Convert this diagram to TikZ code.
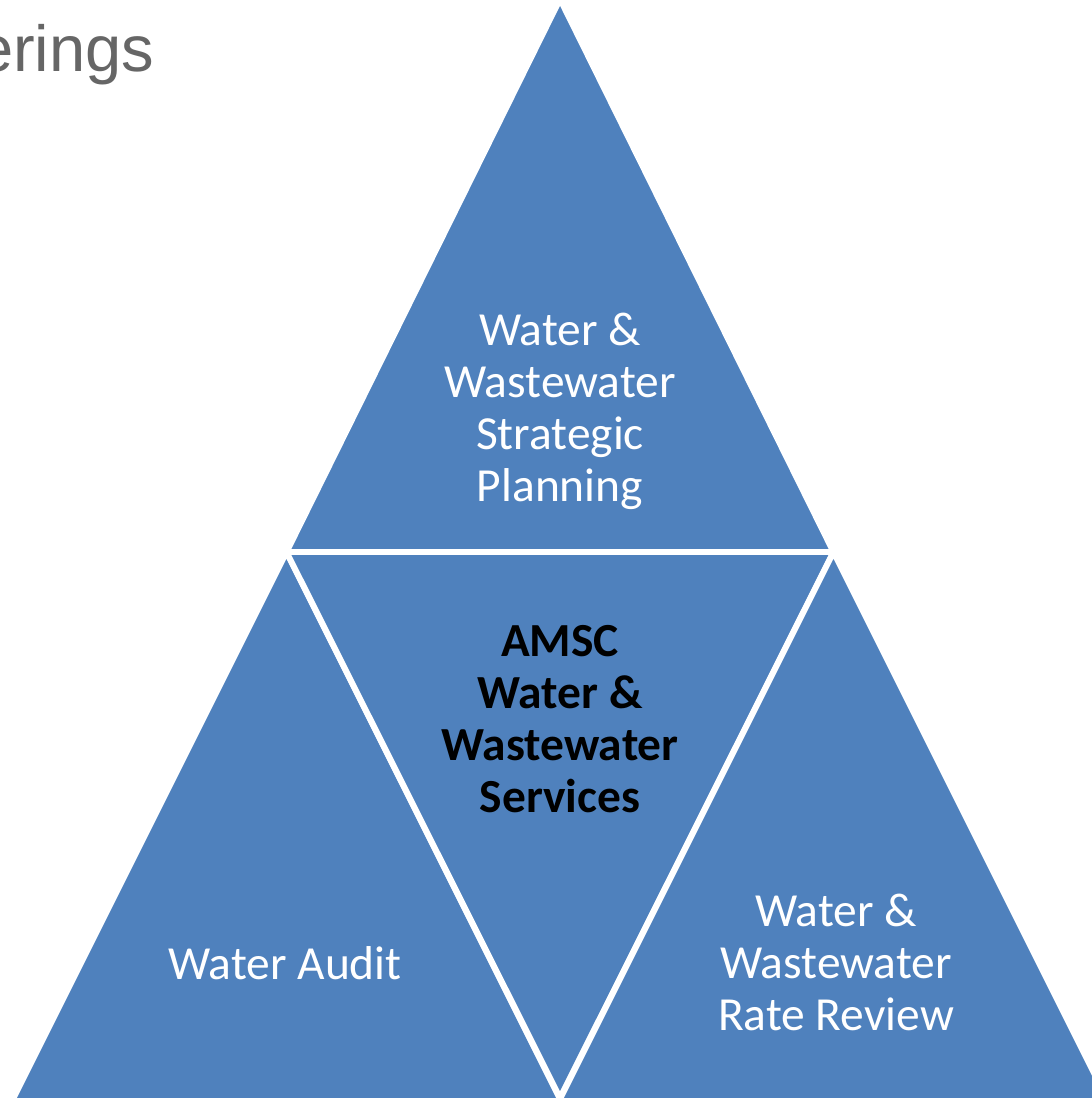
\documentclass[tikz,border=0pt]{standalone}
\usepackage{fontspec}
\setmainfont{Carlito}
\newfontfamily\headfont{Liberation Sans}
\usepackage{tikz}
\definecolor{triblue}{HTML}{4F81BD}
\definecolor{headgray}{HTML}{666666}

\begin{document}
\begin{tikzpicture}
	[x=0.01cm,y=-0.01cm,every node/.style={align=center,font=\fontsize{13.5}{14.8}\selectfont},
	 tri/.style={fill=triblue,draw=white,line width=1.7pt,line join=round},
	 lbl/.style={text=white}, core/.style={text=black,font=\fontsize{13.5}{14.8}\selectfont\bfseries}]
	\useasboundingbox (0,0) rectangle (1092,1098);
	\coordinate (top) at (560,-1);
	\coordinate (ml) at (286.5,552);
	\coordinate (mr) at (833.5,552);
	\coordinate (bl) at (10.5,1104);
	\coordinate (bm) at (560,1098);
	\coordinate (blr) at (562.5,1104);
	\coordinate (brl) at (557.5,1104);
	\coordinate (br) at (1109.5,1104);

	\foreach \a/\b/\c in {top/ml/mr,ml/bl/blr,ml/mr/bm,mr/brl/br}
	\draw[tri] (\a) -- (\b) -- (\c) -- cycle;

	\node[lbl] (plan) at (560,411) {Water \&\\Wastewater\\Strategic\\Planning};
	\node[core] (amsc) at (560,719) {AMSC\\Water \&\\Wastewater\\Services};
	\node[lbl] (audit) at (285,963) {Water Audit};
	\node[lbl] (rate) at (836,962) {Water \&\\Wastewater\\Rate Review};
	\node[text=headgray,font=\headfont\fontsize{18.5}{22}\selectfont,anchor=base east,inner sep=0pt] (head) at (155,72) {erings};

\end{tikzpicture}
\end{document}
